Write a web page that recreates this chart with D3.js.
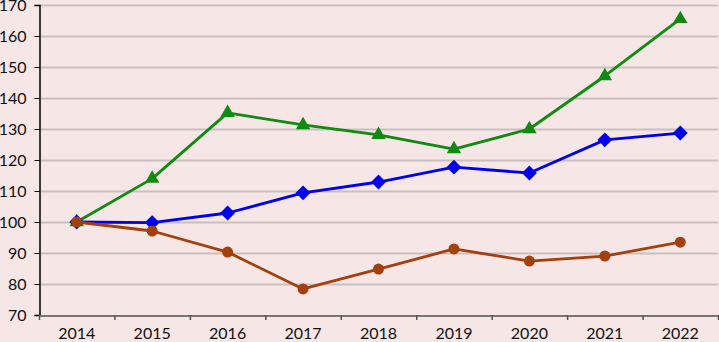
<!DOCTYPE html>
<html><head><meta charset="utf-8">
<script src="https://cdn.jsdelivr.net/npm/d3@7"></script>
<style>html,body{margin:0;padding:0;background:#f6e6e6;}svg{display:block;}</style>
</head><body><svg id="c" width="719" height="342"></svg>
<script>
const years = ["2014","2015","2016","2017","2018","2019","2020","2021","2022"];
const greenSeries = [100, 114, 135.2, 131.3, 128.1, 123.5, 130, 147.1, 165.5];
const blueSeries = [100, 99.8, 102.9, 109.4, 112.9, 117.7, 115.8, 126.5, 128.7];
const brownSeries = [100, 97.1, 90.3, 78.4, 84.8, 91.3, 87.4, 89.0, 93.5];
const yTicks = [70, 80, 90, 100, 110, 120, 130, 140, 150, 160, 170];

const svg = d3.select("#c");
const L = 39, R = 718, T = 5, B = 315;
svg.append("rect").attr("width",719).attr("height",342).attr("fill","#f6e6e6");
const x = d3.scaleBand().domain(years).range([L, R]);
const y = d3.scaleLinear().domain([70,170]).range([B, T]);

// gridlines
svg.append("g").selectAll("line").data(yTicks.filter(d=>d>70)).join("line")
  .attr("x1",L).attr("x2",R).attr("y1",d=>y(d)+0.5).attr("y2",d=>y(d)+0.5)
  .attr("stroke","#c9bfbf").attr("stroke-width",2);

const font = "Lato, 'Open Sans', sans-serif";
// y axis
const ya = svg.append("g").attr("transform",`translate(${L+0.5},0)`)
  .call(d3.axisLeft(y).tickValues(yTicks).tickSize(5).tickPadding(8).tickFormat(d3.format("d")));
ya.select(".domain").attr("stroke","#000").attr("stroke-width",1.5);
ya.selectAll(".tick line").attr("stroke","#000");
ya.selectAll("text").attr("font-family",font).attr("font-size",16).attr("fill","#111");

// x axis
const xa = svg.append("g").attr("transform",`translate(0,${B+0.5})`)
  .call(d3.axisBottom(x).tickSize(0).tickPadding(12));
xa.select(".domain").attr("stroke","#777").attr("stroke-width",2);
xa.selectAll("text").attr("font-family",font).attr("font-size",16).attr("fill","#111");
svg.append("g").selectAll("line").data(years.map((d,i)=>i).concat([years.length])).join("line")
  .attr("x1",i=>L + i*x.step()+0.5).attr("x2",i=>L + i*x.step()+0.5)
  .attr("y1",B).attr("y2",B+5).attr("stroke","#555").attr("stroke-width",1.5);

const line = d3.line().x((d,i)=>x(years[i])+x.bandwidth()/2).y(d=>y(d));
function drawSeries(vals, color, sym, size, rot){
  svg.append("path").datum(vals).attr("d",line).attr("fill","none")
    .attr("stroke",color).attr("stroke-width",2.8).attr("stroke-linejoin","round");
  svg.append("g").selectAll("path").data(vals).join("path")
    .attr("d",d3.symbol().type(sym).size(size))
    .attr("transform",(d,i)=>`translate(${x(years[i])+x.bandwidth()/2},${y(d)}) rotate(${rot})`)
    .attr("fill",color);
}
drawSeries(greenSeries, "#108a10", d3.symbolTriangle, 90, 0);
drawSeries(blueSeries, "#0000f0", d3.symbolSquare, 110, 45);
drawSeries(brownSeries, "#a2400e", d3.symbolCircle, 95, 0);
</script></body></html>
